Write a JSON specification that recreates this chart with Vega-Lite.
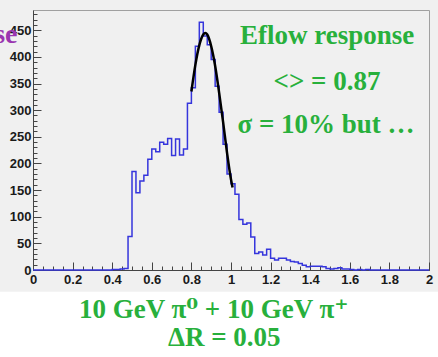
{
  "$schema": "https://vega.github.io/schema/vega-lite/v6.json",
  "width": 396,
  "height": 260,
  "autosize": {"type": "none"},
  "padding": {"left": 33, "top": 10, "right": 9, "bottom": 87},
  "background": "#f0f0f0",
  "config": {"view": {"stroke": "#a0a0a0", "strokeWidth": 1}},
  "datasets": {
    "hist": [
      {"x": 0.00, "n": 0}, {"x": 0.02, "n": 0}, {"x": 0.04, "n": 0}, {"x": 0.06, "n": 0}, {"x": 0.08, "n": 0},
      {"x": 0.10, "n": 0}, {"x": 0.12, "n": 0}, {"x": 0.14, "n": 0}, {"x": 0.16, "n": 0}, {"x": 0.18, "n": 0},
      {"x": 0.20, "n": 0}, {"x": 0.22, "n": 0}, {"x": 0.24, "n": 0}, {"x": 0.26, "n": 0}, {"x": 0.28, "n": 0},
      {"x": 0.30, "n": 0}, {"x": 0.32, "n": 0}, {"x": 0.34, "n": 0}, {"x": 0.36, "n": 0}, {"x": 0.38, "n": 0},
      {"x": 0.40, "n": 1}, {"x": 0.42, "n": 1}, {"x": 0.44, "n": 2}, {"x": 0.46, "n": 3}, {"x": 0.48, "n": 63},
      {"x": 0.50, "n": 185}, {"x": 0.52, "n": 145}, {"x": 0.54, "n": 167}, {"x": 0.56, "n": 178}, {"x": 0.58, "n": 208},
      {"x": 0.60, "n": 227}, {"x": 0.62, "n": 222}, {"x": 0.64, "n": 240}, {"x": 0.66, "n": 236}, {"x": 0.68, "n": 247},
      {"x": 0.70, "n": 215}, {"x": 0.72, "n": 246}, {"x": 0.74, "n": 216}, {"x": 0.76, "n": 227}, {"x": 0.78, "n": 313},
      {"x": 0.80, "n": 342}, {"x": 0.82, "n": 420}, {"x": 0.84, "n": 465}, {"x": 0.86, "n": 439}, {"x": 0.88, "n": 423},
      {"x": 0.90, "n": 395}, {"x": 0.92, "n": 345}, {"x": 0.94, "n": 296}, {"x": 0.96, "n": 236}, {"x": 0.98, "n": 180},
      {"x": 1.00, "n": 162}, {"x": 1.02, "n": 142}, {"x": 1.04, "n": 95}, {"x": 1.06, "n": 86}, {"x": 1.08, "n": 88},
      {"x": 1.10, "n": 62}, {"x": 1.12, "n": 31}, {"x": 1.14, "n": 34}, {"x": 1.16, "n": 28}, {"x": 1.18, "n": 39},
      {"x": 1.20, "n": 22}, {"x": 1.22, "n": 19}, {"x": 1.24, "n": 22}, {"x": 1.26, "n": 22}, {"x": 1.28, "n": 19},
      {"x": 1.30, "n": 16}, {"x": 1.32, "n": 15}, {"x": 1.34, "n": 12}, {"x": 1.36, "n": 9}, {"x": 1.38, "n": 6},
      {"x": 1.40, "n": 7}, {"x": 1.42, "n": 7}, {"x": 1.44, "n": 7}, {"x": 1.46, "n": 6}, {"x": 1.48, "n": 3},
      {"x": 1.50, "n": 2}, {"x": 1.52, "n": 3}, {"x": 1.54, "n": 4}, {"x": 1.56, "n": 2}, {"x": 1.58, "n": 2},
      {"x": 1.60, "n": 1}, {"x": 1.62, "n": 0}, {"x": 1.64, "n": 1}, {"x": 1.66, "n": 0}, {"x": 1.68, "n": 1},
      {"x": 1.70, "n": 0}, {"x": 1.72, "n": 0}, {"x": 1.74, "n": 0}, {"x": 1.76, "n": 0}, {"x": 1.78, "n": 0},
      {"x": 1.80, "n": 0}, {"x": 1.82, "n": 0}, {"x": 1.84, "n": 0}, {"x": 1.86, "n": 0}, {"x": 1.88, "n": 0},
      {"x": 1.90, "n": 0}, {"x": 1.92, "n": 0}, {"x": 1.94, "n": 0}, {"x": 1.96, "n": 0}, {"x": 1.98, "n": 0},
      {"x": 2.00, "n": 0}
    ],
    "fit": [
      {"x": 0.800, "n": 335}, {"x": 0.820, "n": 385}, {"x": 0.840, "n": 422}, {"x": 0.860, "n": 442},
      {"x": 0.870, "n": 445}, {"x": 0.880, "n": 442}, {"x": 0.900, "n": 420}, {"x": 0.920, "n": 383},
      {"x": 0.940, "n": 333}, {"x": 0.960, "n": 278}, {"x": 0.980, "n": 220}, {"x": 1.000, "n": 170},
      {"x": 1.008, "n": 155}
    ],
    "notes": [
      {"tx": 1.485, "ty": 439, "label": "Eflow response"},
      {"tx": 1.485, "ty": 353, "label": "<> = 0.87"},
      {"tx": 1.48, "ty": 273, "label": "σ = 10% but …"}
    ],
    "caption": [
      {"tx": 0.913, "ty": -76, "label": "10 GeV π⁰ + 10 GeV π⁺"},
      {"tx": 0.966, "ty": -127, "label": "ΔR = 0.05"}
    ],
    "cut": [
      {"tx": -0.078, "ty": 442, "label": "se"}
    ]
  },
  "layer": [
    {
      "data": {"values": [{}]},
      "mark": {"type": "rect", "fill": "#ffffff", "clip": false},
      "encoding": {
        "x": {"datum": -0.3, "type": "quantitative", "scale": {"domain": [0, 2], "nice": false, "zero": false}, "axis": null},
        "x2": {"datum": 2.3},
        "y": {"datum": -41, "type": "quantitative", "scale": {"domain": [0, 488], "nice": false, "zero": false}, "axis": null},
        "y2": {"datum": -300}
      }
    },
    {
      "data": {"name": "hist"},
      "mark": {"type": "line", "interpolate": "step-after", "strokeOpacity": 0},
      "encoding": {
        "x": {"field": "x", "type": "quantitative", "scale": {"domain": [0, 2], "nice": false, "zero": false},
          "axis": {"orient": "bottom", "values": [0,0.05,0.1,0.15,0.2,0.25,0.3,0.35,0.4,0.45,0.5,0.55,0.6,0.65,0.7,0.75,0.8,0.85,0.9,0.95,1,1.05,1.1,1.15,1.2,1.25,1.3,1.35,1.4,1.45,1.5,1.55,1.6,1.65,1.7,1.75,1.8,1.85,1.9,1.95,2],
            "labels": false, "domain": false, "grid": false, "tickSize": -4, "tickColor": "#444", "tickWidth": 1, "title": null}},
        "y": {"field": "n", "type": "quantitative", "scale": {"domain": [0, 488], "nice": false, "zero": false},
          "axis": {"orient": "left", "values": [0,10,20,30,40,50,60,70,80,90,100,110,120,130,140,150,160,170,180,190,200,210,220,230,240,250,260,270,280,290,300,310,320,330,340,350,360,370,380,390,400,410,420,430,440,450,460,470,480],
            "labels": false, "domain": false, "grid": false, "tickSize": -4, "tickColor": "#444", "tickWidth": 1, "title": null}}
      }
    },
    {
      "data": {"name": "hist"},
      "mark": {"type": "line", "interpolate": "step-after", "color": "#3535dc", "strokeWidth": 1.5},
      "encoding": {
        "x": {"field": "x", "type": "quantitative", "scale": {"domain": [0, 2], "nice": false, "zero": false},
          "axis": {"orient": "bottom", "values": [0,0.2,0.4,0.6,0.8,1,1.2,1.4,1.6,1.8,2], "format": "~g",
            "tickSize": -8, "tickColor": "#444", "domainColor": "#444", "grid": false, "title": null,
            "labelFont": "Liberation Sans", "labelFontWeight": "bold", "labelFontSize": 13, "labelColor": "#1a1a1a",
            "labelPadding": 11, "labelFlush": false, "labelOverlap": false}},
        "y": {"field": "n", "type": "quantitative", "scale": {"domain": [0, 488], "nice": false, "zero": false},
          "axis": {"orient": "left", "values": [0,50,100,150,200,250,300,350,400,450], "format": "d",
            "tickSize": -8, "tickColor": "#444", "domainColor": "#444", "grid": false, "title": null,
            "labelFont": "Liberation Sans", "labelFontWeight": "bold", "labelFontSize": 13, "labelColor": "#1a1a1a",
            "labelPadding": 10, "labelOverlap": false}}
      }
    },
    {
      "data": {"name": "fit"},
      "mark": {"type": "line", "interpolate": "monotone", "color": "#000000", "strokeWidth": 2.5},
      "encoding": {
        "x": {"field": "x", "type": "quantitative", "scale": {"domain": [0, 2], "nice": false, "zero": false}, "axis": null},
        "y": {"field": "n", "type": "quantitative", "scale": {"domain": [0, 488], "nice": false, "zero": false}, "axis": null}
      }
    },
    {
      "data": {"name": "notes"},
      "mark": {"type": "text", "font": "Liberation Serif, DejaVu Serif", "fontWeight": "bold", "fontSize": 27, "color": "#28b03c", "align": "center", "baseline": "middle", "clip": false},
      "encoding": {
        "x": {"field": "tx", "type": "quantitative", "scale": {"domain": [0, 2], "nice": false, "zero": false}, "axis": null},
        "y": {"field": "ty", "type": "quantitative", "scale": {"domain": [0, 488], "nice": false, "zero": false}, "axis": null},
        "text": {"field": "label"}
      }
    },
    {
      "data": {"name": "caption"},
      "mark": {"type": "text", "font": "Liberation Serif, DejaVu Serif", "fontWeight": "bold", "fontSize": 27, "color": "#28b03c", "align": "center", "baseline": "middle", "clip": false},
      "encoding": {
        "x": {"field": "tx", "type": "quantitative", "scale": {"domain": [0, 2], "nice": false, "zero": false}, "axis": null},
        "y": {"field": "ty", "type": "quantitative", "scale": {"domain": [0, 488], "nice": false, "zero": false}, "axis": null},
        "text": {"field": "label"}
      }
    },
    {
      "data": {"name": "cut"},
      "mark": {"type": "text", "font": "Liberation Serif", "fontWeight": "bold", "fontSize": 28, "color": "#9a35b0", "align": "right", "baseline": "middle", "clip": false},
      "encoding": {
        "x": {"field": "tx", "type": "quantitative", "scale": {"domain": [0, 2], "nice": false, "zero": false}, "axis": null},
        "y": {"field": "ty", "type": "quantitative", "scale": {"domain": [0, 488], "nice": false, "zero": false}, "axis": null},
        "text": {"field": "label"}
      }
    }
  ],
  "resolve": {"axis": {"x": "independent", "y": "independent"}}
}
